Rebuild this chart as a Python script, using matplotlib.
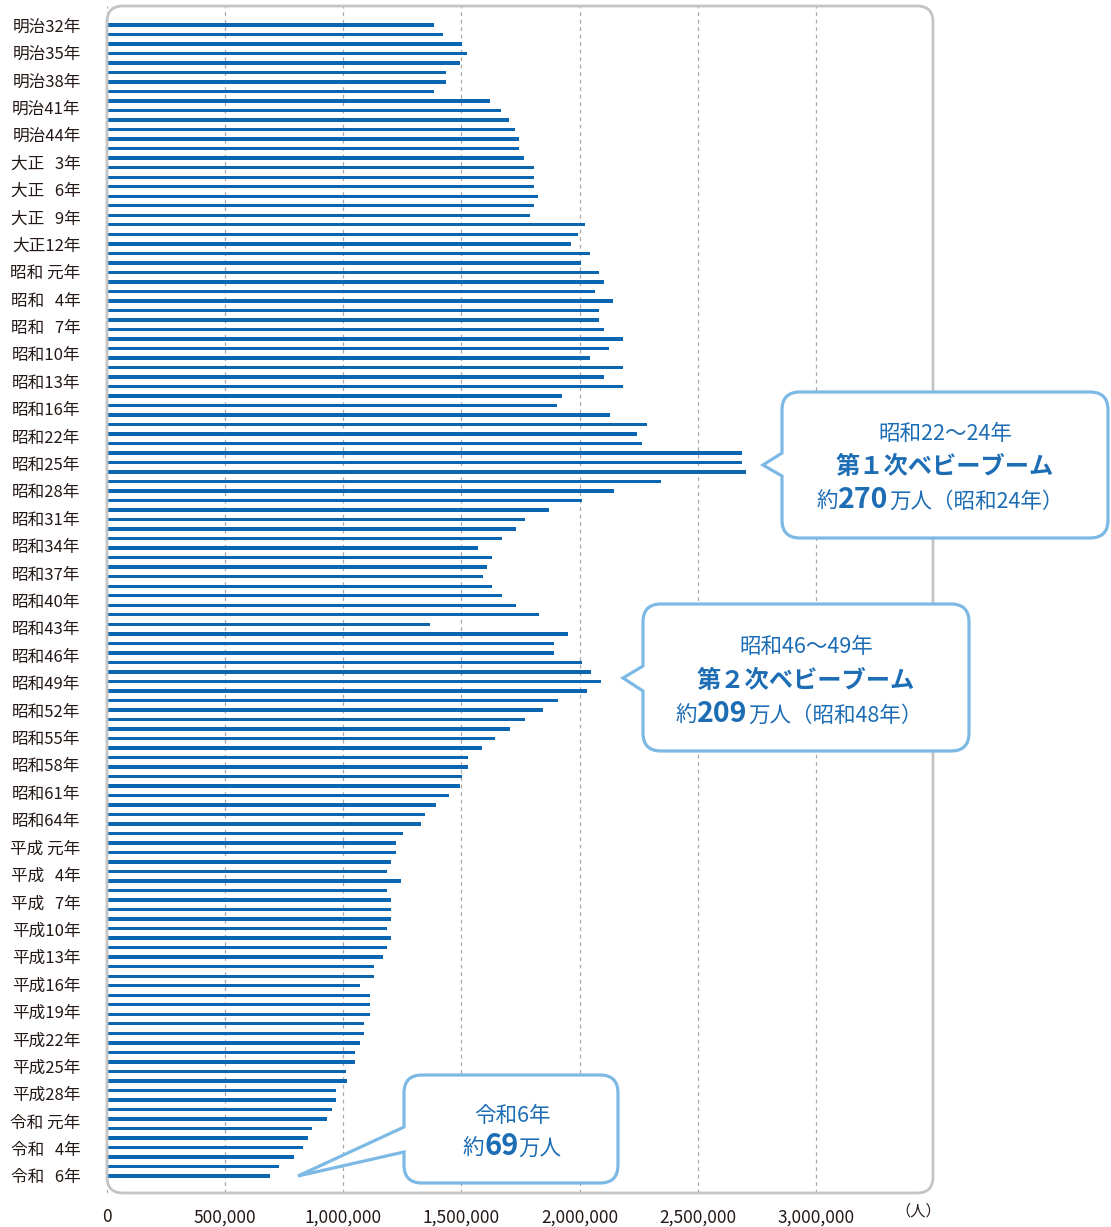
import numpy as np
import matplotlib
matplotlib.use("Agg")
import matplotlib.pyplot as plt
import matplotlib.transforms as mtransforms
from matplotlib.path import Path
from matplotlib.patches import PathPatch

plt.rcParams['font.family'] = ['Noto Sans CJK JP', 'DejaVu Sans']

# 出生数 (千人) 上から順に、図から読み取り
births_k = [
    1384, 1421, 1503, 1524, 1493, 1436, 1436, 1384, 1622, 1667,
    1701, 1728, 1742, 1742, 1763, 1806, 1806, 1806, 1824, 1806,
    1791, 2025, 1994, 1963, 2043, 2004, 2084, 2102, 2065, 2143,
    2084, 2084, 2102, 2184, 2123, 2043, 2184, 2102, 2184, 1924,
    1906, 2127, 2284, 2243, 2264, 2687, 2687, 2706, 2344, 2145,
    2012, 1870, 1770, 1730, 1670, 1572, 1630, 1608, 1591, 1630,
    1670, 1730, 1830, 1366, 1950, 1890, 1890, 2012, 2050, 2090,
    2030, 1910, 1845, 1767, 1706, 1642, 1589, 1526, 1526, 1503,
    1493, 1446, 1391, 1346, 1327, 1254, 1225, 1225, 1204, 1186,
    1243, 1186, 1204, 1204, 1204, 1186, 1204, 1186, 1170, 1130,
    1130, 1070, 1112, 1112, 1112, 1088, 1088, 1070, 1050, 1050,
    1010, 1016, 971, 971, 953, 929, 868, 851, 829, 791,
    728, 688,
]
values = np.array(births_k) * 1000

F = '\u2007'  # figure space
year_labels = [
    '明治32年', '明治35年', '明治38年', '明治41年', '明治44年',
    '大正' + F + '3年', '大正' + F + '6年', '大正' + F + '9年', '大正12年',
    '昭和 元年', '昭和' + F + '4年', '昭和' + F + '7年', '昭和10年', '昭和13年', '昭和16年',
    '昭和22年', '昭和25年', '昭和28年', '昭和31年', '昭和34年', '昭和37年', '昭和40年',
    '昭和43年', '昭和46年', '昭和49年', '昭和52年', '昭和55年', '昭和58年', '昭和61年', '昭和64年',
    '平成 元年', '平成' + F + '4年', '平成' + F + '7年', '平成10年', '平成13年', '平成16年',
    '平成19年', '平成22年', '平成25年', '平成28年',
    '令和 元年', '令和' + F + '4年', '令和' + F + '6年',
]

x_ticks = [0, 500000, 1000000, 1500000, 2000000, 2500000, 3000000]
x_tick_labels = ['0', '500,000', '1,000,000', '1,500,000', '2,000,000', '2,500,000', '3,000,000']

BAR = '#0b66b1'
TXT = '#231815'
BLUE = '#1d6db5'
EDGE = '#7db9e5'

W, H = 1111, 1227
fig = plt.figure(figsize=(W / 100, H / 100), dpi=100)
# 画素座標 (左上原点)
px = mtransforms.Affine2D().scale(1 / W, -1 / H).translate(0, 1) + fig.transFigure

ax = fig.add_axes([107 / W, 1 - 1193 / H, 827 / W, 1187 / H])
rows = np.arange(len(values))
ax.barh(rows, values, height=0.36, color=BAR, linewidth=0, zorder=3)
ax.set_xlim(0, 3500000)
ax.set_ylim(len(values) - 1 + 1.79, -2.0)

ax.set_xticks(x_ticks)
ax.set_xticklabels(x_tick_labels, fontsize=12.5, color=TXT)
ax.set_yticks(np.linspace(0, len(values) - 1, len(year_labels)))
ax.set_yticklabels(year_labels, fontsize=12, color=TXT)
ax.tick_params(axis='x', length=0, pad=11)
ax.tick_params(axis='y', length=0, pad=19)
ax.grid(axis='x', color='#a8a8a8', linestyle=(0, (3, 3)), linewidth=0.9, zorder=1)
for s in ax.spines.values():
    s.set_visible(False)


def round_box(x0, y0, x1, y1, r, tail=()):
    M, L, C, Z = Path.MOVETO, Path.LINETO, Path.CURVE3, Path.CLOSEPOLY
    verts = [(x0 + r, y0), (x1 - r, y0), (x1, y0), (x1, y0 + r),
             (x1, y1 - r), (x1, y1), (x1 - r, y1), (x0 + r, y1), (x0, y1), (x0, y1 - r)]
    codes = [M, L, C, C, L, C, C, L, C, C]
    for p in tail:
        verts.append(p)
        codes.append(L)
    verts += [(x0, y0 + r), (x0, y0), (x0 + r, y0), (x0 + r, y0)]
    codes += [L, C, C, Z]
    return Path(verts, codes)


# 外枠
fig.add_artist(PathPatch(round_box(107, 6, 933, 1193, 16), transform=px,
                         facecolor='none', edgecolor='#c4c4c4', linewidth=2.0, zorder=2))

# 吹き出し
fig.add_artist(PathPatch(round_box(782, 392, 1108, 538, 18, [(782, 476), (763, 465), (782, 453)]),
                         transform=px, facecolor='white', edgecolor=EDGE, linewidth=2.3, zorder=5))
fig.add_artist(PathPatch(round_box(643, 604, 969, 751, 18, [(643, 691), (623, 678), (643, 666)]),
                         transform=px, facecolor='white', edgecolor=EDGE, linewidth=2.3, zorder=5))
fig.add_artist(PathPatch(round_box(404, 1075, 618, 1183, 18, [(404, 1152), (298, 1176), (404, 1127)]),
                         transform=px, facecolor='white', edgecolor=EDGE, linewidth=2.3, zorder=5))

renderer = fig.canvas.get_renderer()


def rich_line(cx, base_y, parts):
    items = []
    for s, size, bold in parts:
        t = fig.text(0, 0, s, transform=px, fontsize=size,
                     fontweight='bold' if bold else 'normal',
                     color=BLUE, ha='left', va='baseline', zorder=6)
        items.append((t, t.get_window_extent(renderer).width))
    x = cx - sum(w for _, w in items) / 2
    for t, w in items:
        t.set_position((x, base_y))
        x += w


rich_line(945, 440, [('昭和22～24年', 15.5, False)])
rich_line(945, 474, [('第１次ベビーブーム', 17.5, True)])
rich_line(940, 508, [('約', 15.5, False), ('270', 20.5, True), ('万人（昭和24年）', 15.5, False)])

rich_line(806, 653, [('昭和46～49年', 15.5, False)])
rich_line(806, 688, [('第２次ベビーブーム', 17.5, True)])
rich_line(799, 722, [('約', 15.5, False), ('209', 20.5, True), ('万人（昭和48年）', 15.5, False)])

rich_line(512, 1122, [('令和6年', 15.5, False)])
rich_line(512, 1155, [('約', 15.5, False), ('69', 21, True), ('万人', 15.5, False)])

fig.text(918, 1211, '（人）', transform=px, fontsize=11, color=TXT, ha='center', va='center')

fig.savefig('out.png', dpi=100)
